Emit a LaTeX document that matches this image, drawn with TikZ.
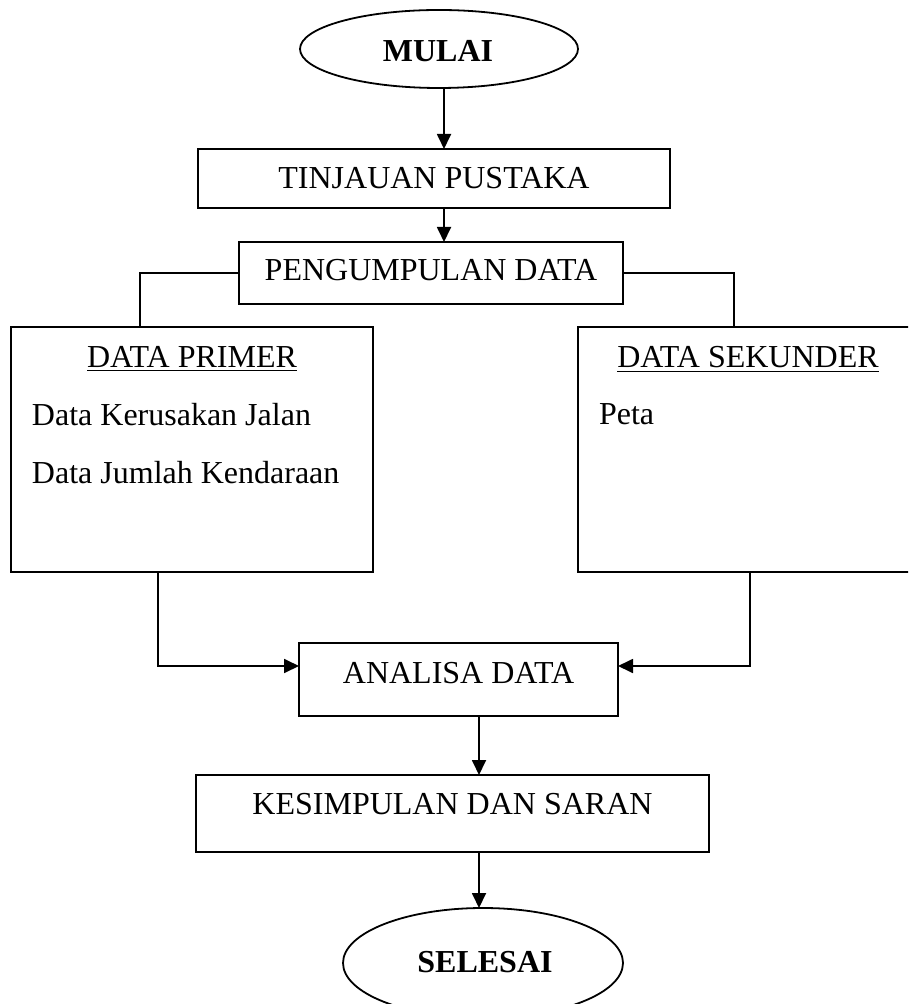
\documentclass[tikz,border=0pt]{standalone}
\usepackage{fontspec}
\setmainfont{Liberation Serif}
\usetikzlibrary{arrows.meta,shapes.geometric}
\tikzset{
  box/.style={draw, line width=0.9pt, rectangle, inner sep=0pt, outer sep=0pt},
  oval/.style={draw, line width=0.9pt, ellipse, inner sep=0pt, outer sep=0pt},
  txt/.style={inner sep=0pt, outer sep=0pt, font=\fontsize{16}{19}\selectfont},
  btxt/.style={txt, font=\fontsize{16}{19}\selectfont\bfseries},
  conn/.style={line width=0.9pt},
  arr/.style={conn, -{Triangle[length=7.5pt,width=7pt]}}
}
\begin{document}
\begin{tikzpicture}[x=0.5pt,y=-0.5pt]
\path[use as bounding box] (0,0) rectangle (908,1004);
\clip (0,0) rectangle (908,1004);
\fill[white] (0,0) rectangle (908,1004);

% shapes
\node[oval, minimum width=139pt, minimum height=39pt] (mulai) at (439,49) {};
\node[btxt, anchor=base] (mulaiT) at (438,62) {MULAI};

\node[box, minimum width=236pt, minimum height=29.5pt] (tin) at (434,178.5) {};
\node[txt, anchor=base] (tinT) at (434,189) {TINJAUAN PUSTAKA};

\node[box, minimum width=192pt, minimum height=31pt] (pen) at (431,273) {};
\node[txt, anchor=base] (penT) at (431,281) {PENGUMPULAN DATA};

\node[box, minimum width=181pt, minimum height=122.5pt] (pri) at (192,449.5) {};
\node[txt, anchor=base] (priT) at (192,368) {\underline{DATA PRIMER}};
\node[txt, anchor=base west] (pri1) at (32,426) {Data Kerusakan Jalan};
\node[txt, anchor=base west] (pri2) at (32,483) {Data Jumlah Kendaraan};

\node[box, minimum width=170pt, minimum height=122.5pt] (sek) at (748,449.5) {};
\node[txt, anchor=base] (sekT) at (748,368) {\underline{DATA SEKUNDER}};
\node[txt, anchor=base west] (sek1) at (599,425) {Peta};

\node[box, minimum width=159.5pt, minimum height=36.5pt] (ana) at (458.5,679.5) {};
\node[txt, anchor=base] (anaT) at (458.5,683) {ANALISA DATA};

\node[box, minimum width=256.5pt, minimum height=38.5pt] (kes) at (452.5,813.5) {};
\node[txt, anchor=base] (kesT) at (452.5,814) {KESIMPULAN DAN SARAN};

\node[oval, minimum width=140pt, minimum height=55pt] (sel) at (483,963) {};
\node[btxt, anchor=base] (selT) at (485,972) {SELESAI};

% helper coordinates
\coordinate (xa) at (444,0);
\coordinate (xl) at (140,0);
\coordinate (xr) at (734,0);
\coordinate (xlb) at (158,0);
\coordinate (xrb) at (750,0);
\coordinate (ymid) at (0,666);
\coordinate (xc) at (479,0);

% connectors
\draw[arr] (mulai.south -| xa) -- (tin.north -| xa);
\draw[arr] (tin.south -| xa) -- (pen.north -| xa);
\draw[conn] (pen.west) -| (pri.north -| xl);
\draw[conn] (pen.east) -| (sek.north -| xr);
\draw[arr] (pri.south -| xlb) |- (ana.west |- ymid);
\draw[arr] (sek.south -| xrb) |- (ana.east |- ymid);
\draw[arr] (ana.south -| xc) -- (kes.north -| xc);
\draw[arr] (kes.south -| xc) -- (sel.north -| xc);
\end{tikzpicture}
\end{document}
